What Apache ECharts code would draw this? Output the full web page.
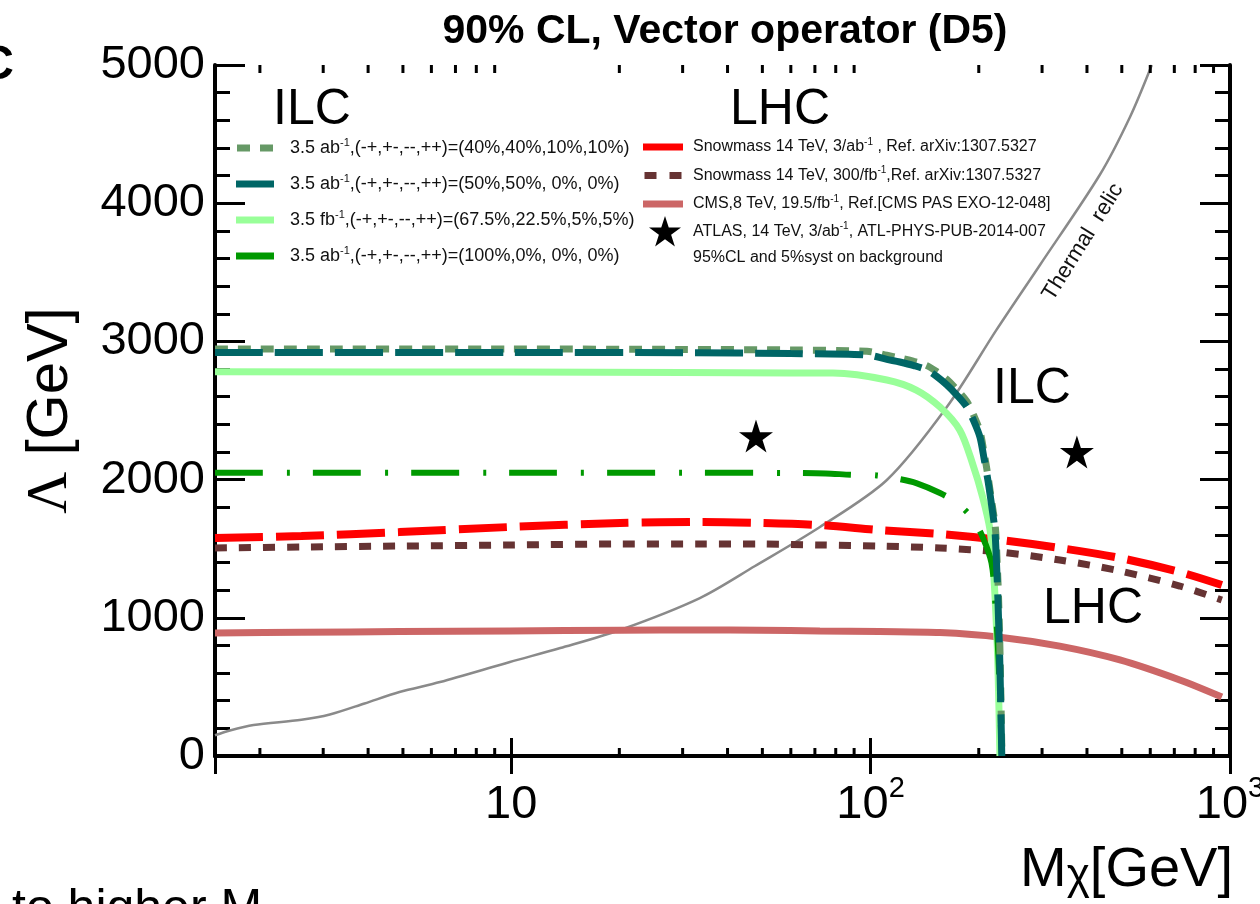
<!DOCTYPE html>
<html>
<head>
<meta charset="utf-8">
<script src="https://cdn.jsdelivr.net/npm/echarts@6/dist/echarts.min.js"></script>
<style>
  html, body { margin: 0; padding: 0; background: #fff; }
  #chart { width: 1260px; height: 904px; }
</style>
</head>
<body>
<div id="chart"></div>
<script>
// Dark-matter mass M_chi [GeV] vs. suppression scale Lambda [GeV]
const massMin = 1.5;
const massMax = 1000;
const lambdaMin = 0;
const lambdaMax = 5000;
const lambdaStep = 1000;
const massMinorTicks = [2, 3, 4, 5, 6, 7, 8, 9, 20, 30, 40, 50, 60, 70, 80, 90, 200, 300, 400, 500, 600, 700, 800, 900];

// Thermal relic curve
const thermalRelic = [
  [1.5, 150], [1.65, 185], [1.92, 224], [2.61, 262], [3.13, 300], [3.91, 380], [4.89, 463],
  [6.34, 535], [9.92, 680], [13.7, 781], [20.1, 912], [33.5, 1143], [47.7, 1375], [72.3, 1657],
  [111, 1997], [163, 2525], [224, 3083], [296, 3553], [434, 4204], [527, 4624], [606, 5000]
];

// ILC, 3.5 ab^-1, (40%,40%,10%,10%)
const ilcPol40 = [
  [1.5, 2945], [10, 2945], [30, 2942], [60, 2938], [97.7, 2928], [111, 2900], [120.6, 2880],
  [132, 2855], [143.4, 2825], [153, 2780], [163, 2725], [174, 2650], [185.3, 2565], [194, 2460],
  [201.5, 2350], [207, 2190], [212, 2030], [217, 1850], [222.5, 1650], [225, 1400], [227, 1150],
  [229.5, 673], [232, 0]
];
// ILC, 3.5 ab^-1, (50%,50%,0%,0%)
const ilcPol50 = [
  [1.5, 2920], [10, 2920], [30, 2918], [60, 2912], [97.7, 2902], [111, 2870], [120.6, 2851],
  [132, 2825], [143.4, 2793], [153, 2745], [163, 2685], [174, 2610], [185.3, 2525], [194, 2420],
  [201.5, 2308], [207, 2150], [212, 1997], [217, 1820], [221.7, 1635], [224, 1400], [226, 1150],
  [228.9, 673], [231.8, 0]
];
// ILC, 3.5 fb^-1, (67.5%,22.5%,5%,5%)
const ilcPol675 = [
  [1.5, 2780], [10, 2778], [30, 2775], [60, 2772], [78.6, 2771], [111, 2721], [134, 2648],
  [156, 2525], [177, 2359], [192, 2120], [205, 1874], [215, 1635], [219, 1400], [222, 1150],
  [226, 673], [229, 0]
];
// ILC, 3.5 ab^-1, (100%,0%,0%,0%)
const ilcPol100 = [
  [1.5, 2050], [10, 2050], [30, 2050], [60, 2048], [75, 2045], [88, 2035], [104, 2030],
  [120, 2005], [134, 1975], [156, 1903], [174, 1831], [192, 1720], [205, 1585], [217, 1397],
  [222, 1129], [227, 700], [231.8, 0]
];

// LHC projections and limits
const snowmass3ab = [
  [1.5, 1577], [2.61, 1592], [4.89, 1620], [9.92, 1657], [20.1, 1686], [33.5, 1693], [49.3, 1686],
  [72.3, 1671], [106, 1635], [156, 1606], [229, 1563], [336, 1505], [494, 1433], [725, 1331], [949, 1237]
];
const snowmass300fb = [
  [1.5, 1505], [2.61, 1512], [4.89, 1519], [9.92, 1527], [20.1, 1534], [33.5, 1534], [49.3, 1534],
  [72.3, 1527], [106, 1519], [156, 1505], [229, 1476], [336, 1418], [494, 1339], [725, 1230], [949, 1129]
];
const cms8TeV = [
  [1.5, 890], [2.61, 895], [4.89, 900], [9.92, 905], [20.1, 910], [33.5, 912], [49.3, 910],
  [72.3, 905], [106, 900], [156, 893], [229, 860], [336, 795], [494, 695], [725, 550], [949, 427]
];
const atlasPoints = [[48, 2315], [375, 2200]];

const names = {
  pol40: '3.5 ab⁻¹,(-+,+-,--,++)=(40%,40%,10%,10%)',
  pol50: '3.5 ab⁻¹,(-+,+-,--,++)=(50%,50%, 0%, 0%)',
  pol675: '3.5 fb⁻¹,(-+,+-,--,++)=(67.5%,22.5%,5%,5%)',
  pol100: '3.5 ab⁻¹,(-+,+-,--,++)=(100%,0%, 0%, 0%)',
  snow3: 'Snowmass 14 TeV, 3/ab⁻¹ , Ref. arXiv:1307.5327',
  snow300: 'Snowmass 14 TeV, 300/fb⁻¹,Ref. arXiv:1307.5327',
  cms: 'CMS,8 TeV, 19.5/fb⁻¹, Ref.[CMS PAS EXO-12-048]',
  atlas: 'ATLAS, 14 TeV, 3/ab⁻¹, ATL-PHYS-PUB-2014-007'
};
const atlasNote = '95%CL and 5%syst on background';
const title = '90% CL, Vector operator (D5)';

const FONT = 'Liberation Sans';
const STAR = 'path://M50,0L61.2,34.5L97.6,34.5L68.2,55.9L79.4,90.5L50,69.1L20.6,90.5L31.8,55.9L2.4,34.5L38.8,34.5Z';

function lineSeries(name, data, color, width, dash, z) {
  return {
    type: 'line', name: name, data: data, symbol: 'none', smooth: 0.3, z: z,
    silent: true, animation: false,
    lineStyle: { color: color, width: width, type: dash || 'solid', cap: 'butt', opacity: 1 },
    itemStyle: { color: color, borderWidth: 0, opacity: 1 }
  };
}

function supFormat(s) {
  return s.replace(/⁻¹/g, '{s|-1}');
}

function massLabel(v) {
  const e = Math.round(Math.log10(v));
  if (e < 1 || Math.abs(v - Math.pow(10, e)) > 1e-6 * v) return '';
  return e === 1 ? '{b|10}' : '{b|10}{s|' + e + '}';
}

const axisLineStyle = { color: '#000', width: 4 };
const tickStyle = { color: '#000', width: 3 };

const chart = echarts.init(document.getElementById('chart'), null, { renderer: 'canvas' });

chart.setOption({
  animation: false,
  backgroundColor: '#fff',
  title: {
    text: title, left: 720, top: 6, textAlign: 'center',
    textStyle: { fontFamily: FONT, fontWeight: 'bold', fontSize: 41, color: '#000' }
  },
  grid: { left: 215, right: 30, top: 65, bottom: 148, containLabel: false, outerBoundsMode: 'none' },
  xAxis: [
    {
      type: 'log', logBase: 10, min: massMin, max: massMax, position: 'bottom',
      axisLine: { lineStyle: axisLineStyle },
      axisTick: { inside: true, length: 18, lineStyle: tickStyle },
      splitLine: { show: false },
      axisLabel: {
        formatter: massLabel, margin: 18, showMinLabel: false,
        rich: {
          b: { fontFamily: FONT, fontSize: 47, color: '#000', lineHeight: 62 },
          s: { fontFamily: FONT, fontSize: 29, color: '#000', lineHeight: 28, verticalAlign: 'top' }
        }
      },
      name: '{m|M}{c|χ}{m|[GeV]}', nameLocation: 'end', nameGap: 3,
      nameTextStyle: {
        align: 'right', verticalAlign: 'top', padding: [85, 0, 0, 0],
        rich: {
          m: { fontFamily: FONT, fontSize: 56, color: '#000', lineHeight: 58, verticalAlign: 'bottom' },
          c: { fontFamily: FONT, fontSize: 44, color: '#000', lineHeight: 40, verticalAlign: 'bottom' }
        }
      }
    },
    {
      type: 'log', logBase: 10, min: massMin, max: massMax, position: 'top',
      axisLine: { lineStyle: axisLineStyle },
      axisTick: { inside: true, length: 18, lineStyle: tickStyle },
      axisLabel: { show: false }, splitLine: { show: false }
    }
  ],
  yAxis: [
    {
      type: 'value', min: lambdaMin, max: lambdaMax, interval: lambdaStep, position: 'left',
      axisLine: { show: true, lineStyle: axisLineStyle },
      axisTick: { show: true, inside: true, length: 30, lineStyle: tickStyle },
      minorTick: { show: true, splitNumber: 5, length: 15, lineStyle: tickStyle },
      splitLine: { show: false },
      axisLabel: {
        fontFamily: FONT, fontSize: 47, color: '#000', margin: 10,
        formatter: function (v) { return String(v); }
      },
      name: '{l|Λ} [GeV]', nameLocation: 'middle', nameGap: 135,
      nameTextStyle: {
        fontFamily: FONT, fontSize: 58, color: '#000',
        rich: { l: { fontFamily: 'Liberation Serif', fontSize: 58, color: '#000' } }
      }
    },
    {
      type: 'value', min: lambdaMin, max: lambdaMax, interval: lambdaStep, position: 'right',
      axisLine: { show: true, lineStyle: axisLineStyle },
      axisTick: { show: true, inside: true, length: 30, lineStyle: tickStyle },
      minorTick: { show: true, splitNumber: 5, length: 15, lineStyle: tickStyle },
      splitLine: { show: false }, axisLabel: { show: false }
    }
  ],
  legend: [
    {
      left: 236, top: 137, orient: 'vertical', itemWidth: 38, itemHeight: 7, itemGap: 14,
      padding: 0, selectedMode: false, formatter: supFormat,
      textStyle: {
        fontFamily: FONT, fontSize: 18, color: '#111', lineHeight: 22, padding: [0, 0, 0, 11],
        rich: { s: { fontFamily: FONT, fontSize: 11, color: '#111', lineHeight: 12, verticalAlign: 'top' } }
      },
      data: [
        { name: names.pol40, icon: 'path://M0,0H13V7H0Z M23,0H36V7H23Z' },
        { name: names.pol50, icon: 'rect' },
        { name: names.pol675, icon: 'rect' },
        { name: names.pol100, icon: 'rect' }
      ]
    },
    {
      left: 643, top: 137, orient: 'vertical', itemWidth: 40, itemHeight: 7, itemGap: 8.5,
      padding: 0, selectedMode: false, formatter: supFormat,
      textStyle: {
        fontFamily: FONT, fontSize: 16, color: '#111', lineHeight: 20, padding: [0, 0, 0, 5],
        rich: { s: { fontFamily: FONT, fontSize: 10, color: '#111', lineHeight: 11, verticalAlign: 'top' } }
      },
      data: [
        { name: names.snow3, icon: 'rect' },
        { name: names.snow300, icon: 'path://M0,0H12V7H0Z M25,0H37V7H25Z' },
        { name: names.cms, icon: 'rect' }
      ]
    },
    {
      left: 649, top: 216, orient: 'vertical', itemWidth: 32, itemHeight: 32,
      padding: 0, selectedMode: false, formatter: supFormat,
      itemStyle: { color: '#000', opacity: 1 },
      textStyle: {
        fontFamily: FONT, fontSize: 16, color: '#111', lineHeight: 20, padding: [0, 0, 0, 7],
        rich: { s: { fontFamily: FONT, fontSize: 10, color: '#111', lineHeight: 11, verticalAlign: 'top' } }
      },
      data: [{ name: names.atlas, icon: STAR }]
    }
  ],
  graphic: [
    { type: 'text', silent: true, style: { text: 'C', x: 14, y: 66, font: 'bold 48px "Liberation Sans"', fill: '#000', textAlign: 'right', textVerticalAlign: 'middle', align: 'right', verticalAlign: 'middle' } },
    { type: 'text', silent: true, style: { text: 'ILC', x: 312, y: 110, font: '50px "Liberation Sans"', fill: '#000', textAlign: 'center', textVerticalAlign: 'middle', align: 'center', verticalAlign: 'middle' } },
    { type: 'text', silent: true, style: { text: 'LHC', x: 780, y: 110, font: '50px "Liberation Sans"', fill: '#000', textAlign: 'center', textVerticalAlign: 'middle', align: 'center', verticalAlign: 'middle' } },
    { type: 'text', silent: true, style: { text: 'ILC', x: 1032, y: 389, font: '50px "Liberation Sans"', fill: '#000', textAlign: 'center', textVerticalAlign: 'middle', align: 'center', verticalAlign: 'middle' } },
    { type: 'text', silent: true, style: { text: 'LHC', x: 1093, y: 609, font: '50px "Liberation Sans"', fill: '#000', textAlign: 'center', textVerticalAlign: 'middle', align: 'center', verticalAlign: 'middle' } },
    { type: 'text', silent: true, style: { text: atlasNote, x: 693, y: 258, font: '16px "Liberation Sans"', fill: '#111', textAlign: 'left', textVerticalAlign: 'middle', align: 'left', verticalAlign: 'middle' } },
    { type: 'text', silent: true, x: 1083, y: 242, rotation: 58 * Math.PI / 180, style: { text: 'Thermal  relic', x: 0, y: 0, font: '22px "Liberation Sans"', fill: '#111', textAlign: 'center', textVerticalAlign: 'middle', align: 'center', verticalAlign: 'middle' } },
    { type: 'text', silent: true, style: { text: 'to higher M', x: 12, y: 910, font: '50px "Liberation Sans"', fill: '#000', textAlign: 'left', textVerticalAlign: 'middle', align: 'left', verticalAlign: 'middle' } }
  ],
  series: [
    lineSeries('thermal', thermalRelic, '#8a8a8a', 2.5, 'solid', 2),
    lineSeries(names.cms, cms8TeV, '#cc6666', 7, 'solid', 3),
    lineSeries(names.snow300, snowmass300fb, '#663333', 7, [12, 12], 3),
    lineSeries(names.snow3, snowmass3ab, '#ff0000', 8, [48, 13], 3),
    lineSeries(names.pol675, ilcPol675, '#99ff99', 7, 'solid', 4),
    lineSeries(names.pol100, ilcPol100, '#009900', 6, [48, 24, 3, 23], 4),
    lineSeries(names.pol40, ilcPol40, '#669966', 7, [13, 10], 4),
    lineSeries(names.pol50, ilcPol50, '#006666', 7, [48, 12], 5),
    {
      type: 'scatter', name: names.atlas, data: atlasPoints, symbol: STAR, symbolSize: [34, 33],
      itemStyle: { color: '#000', opacity: 1 }, silent: true, z: 6
    },
    {
      type: 'custom', name: 'minor ticks', data: massMinorTicks.map(function (v) { return [v, lambdaMin]; }),
      silent: true, clip: false, z: 10,
      renderItem: function (params, api) {
        const x = api.value(0);
        const b = api.coord([x, lambdaMin]);
        const t = api.coord([x, lambdaMax]);
        return {
          type: 'group',
          children: [
            { type: 'line', shape: { x1: b[0], y1: b[1], x2: b[0], y2: b[1] - 8 }, style: { stroke: '#000', lineWidth: 3 } },
            { type: 'line', shape: { x1: t[0], y1: t[1], x2: t[0], y2: t[1] + 8 }, style: { stroke: '#000', lineWidth: 3 } }
          ]
        };
      }
    }
  ]
});
</script>
</body>
</html>
